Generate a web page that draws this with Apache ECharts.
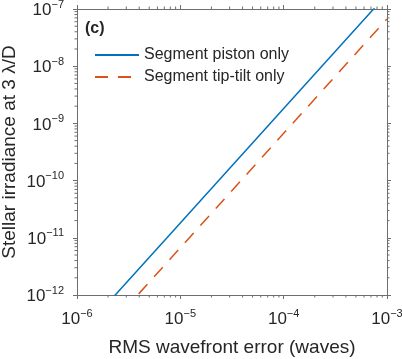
<!DOCTYPE html>
<html>
<head>
<meta charset="utf-8">
<script src="https://cdn.jsdelivr.net/npm/echarts@6/dist/echarts.min.js"></script>
<style>
  html, body { margin: 0; padding: 0; background: #fff; }
  #chart { width: 402px; height: 359px; }
</style>
</head>
<body>
<div id="chart"></div>
<script>
// values (log-log, straight lines)
var rmsWaves = [1e-6, 1e-5, 1e-4, 1e-3];
var pistonOnly = [1.82e-13, 1.82e-11, 1.82e-9, 1.82e-7];
var tipTiltOnly = [6.7e-14, 6.7e-12, 6.7e-10, 6.7e-8];
var seriesNames = ['Segment piston only', 'Segment tip-tilt only'];

var xMin = 1e-6, xMax = 1e-3;
var yMin = 1e-12, yMax = 1e-7;

var FONT = 'Liberation Sans';
var TXT = '#262626';
var AX = '#6e6e6e';

// minor tick positions (2..9 in each decade)
var xMinor = [];
for (var e = -6; e < -3; e++) {
	for (var m = 2; m <= 9; m++) xMinor.push([m * Math.pow(10, e), yMin]);
}
var yMinor = [];
for (var e2 = -12; e2 < -7; e2++) {
	for (var m2 = 2; m2 <= 9; m2++) yMinor.push([xMin, m2 * Math.pow(10, e2)]);
}

function pair(xs, ys) {
	var out = [];
	for (var i = 0; i < xs.length; i++) out.push([xs[i], ys[i]]);
	return out;
}

var supLabel = {
	fontFamily: FONT,
	color: TXT,
	formatter: function (v) {
		return '{b|10}{s|\u2212' + Math.abs(Math.round(Math.log10(v))) + '}';
	},
	rich: {
		b: { fontFamily: FONT, color: TXT, fontSize: 17, lineHeight: 20, verticalAlign: 'bottom' },
		s: { fontFamily: FONT, color: TXT, fontSize: 11, lineHeight: 12, verticalAlign: 'top' }
	}
};

function axisBase(pos, min, max, showLabel) {
	return {
		type: 'log',
		logBase: 10,
		position: pos,
		min: min,
		max: max,
		nameMoveOverlap: false,
		axisLine: { show: true, onZero: false, lineStyle: { color: AX, width: 1 } },
		axisTick: { show: true, inside: false, length: 4, lineStyle: { color: AX } },
		splitLine: { show: false },
		axisLabel: showLabel ? Object.assign({ margin: 13 }, supLabel) : { show: false }
	};
}

var xBottom = axisBase('bottom', xMin, xMax, true);
xBottom.name = 'RMS wavefront error (waves)';
xBottom.nameLocation = 'middle';
xBottom.nameGap = 43;
xBottom.nameTextStyle = { fontFamily: FONT, fontSize: 19, color: TXT };

var yLeft = axisBase('left', yMin, yMax, true);
yLeft.name = 'Stellar irradiance at 3 \u03bb/D';
yLeft.nameLocation = 'middle';
yLeft.nameGap = 58;
yLeft.nameTextStyle = { fontFamily: FONT, fontSize: 19, color: TXT };

function minorTicks(isX) {
	return function (params, api) {
		var p = api.coord([api.value(0), api.value(1)]);
		var L = 2.5;
		var style = { stroke: AX, lineWidth: 1 };
		if (isX) {
			var top = api.coord([api.value(0), yMax]);
			return { type: 'group', children: [
				{ type: 'line', shape: { x1: p[0], y1: p[1], x2: p[0], y2: p[1] + L }, style: style },
				{ type: 'line', shape: { x1: p[0], y1: top[1], x2: p[0], y2: top[1] - L }, style: style }
			] };
		}
		var right = api.coord([xMax, api.value(1)]);
		return { type: 'group', children: [
			{ type: 'line', shape: { x1: p[0], y1: p[1], x2: p[0] - L, y2: p[1] }, style: style },
			{ type: 'line', shape: { x1: right[0], y1: p[1], x2: right[0] + L, y2: p[1] }, style: style }
		] };
	};
}

var chart = echarts.init(document.getElementById('chart'), null, { renderer: 'canvas' });
chart.setOption({
	animation: false,
	backgroundColor: '#fff',
	grid: { left: 77, right: 15, top: 9, bottom: 64, containLabel: false, outerBoundsMode: 'none' },
	xAxis: [xBottom, axisBase('top', xMin, xMax, false)],
	yAxis: [yLeft, axisBase('right', yMin, yMax, false)],
	legend: {
		data: seriesNames,
		orient: 'vertical',
		left: 94,
		top: 47,
		padding: 0,
		itemWidth: 44,
		itemHeight: 14,
		itemGap: 6,
		itemStyle: { opacity: 0 },
		textStyle: { fontFamily: FONT, fontSize: 16, color: TXT }
	},
	graphic: [{
		type: 'text',
		left: 85,
		top: 21,
		style: { text: '(c)', fontFamily: FONT, fontSize: 16, fontWeight: 'bold', fill: TXT }
	}],
	series: [
		{
			name: seriesNames[0],
			type: 'line',
			data: pair(rmsWaves, pistonOnly),
			symbol: 'none',
			clip: true,
			lineStyle: { color: '#0072BD', width: 1.5 },
			itemStyle: { color: '#0072BD' }
		},
		{
			name: seriesNames[1],
			type: 'line',
			data: pair(rmsWaves, tipTiltOnly),
			symbol: 'none',
			clip: true,
			lineStyle: { color: '#D95319', width: 1.5, type: [13, 10] },
			itemStyle: { color: '#D95319' }
		},
		{ type: 'custom', data: xMinor, renderItem: minorTicks(true), silent: true },
		{ type: 'custom', data: yMinor, renderItem: minorTicks(false), silent: true }
	]
});
</script>
</body>
</html>
